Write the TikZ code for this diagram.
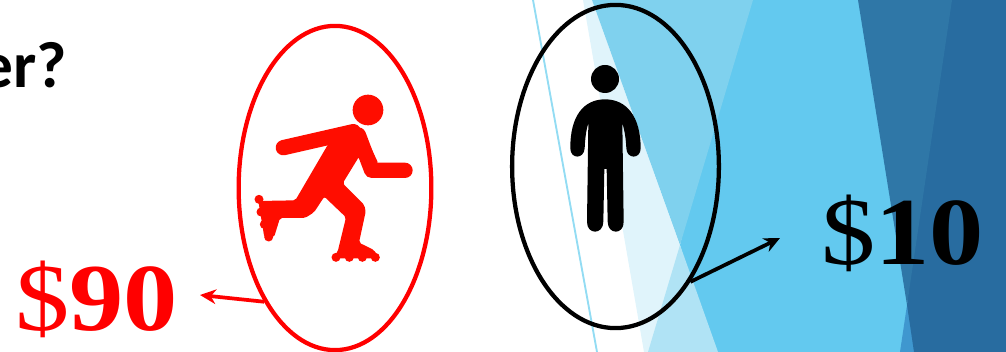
\documentclass[tikz,border=0pt]{standalone}
\usepackage{fontspec}
\setmainfont{Carlito}
\newfontfamily\numfont[FakeStretch=1.13]{Liberation Serif}
\usetikzlibrary{shapes.geometric,arrows.meta}
\definecolor{bgA}{HTML}{E0F4FB}
\definecolor{bgB}{HTML}{7FD1EE}
\definecolor{bgC}{HTML}{B0E3F5}
\definecolor{bgD}{HTML}{63C9EF}
\definecolor{bgE}{HTML}{2F77A7}
\definecolor{bgF}{HTML}{286CA0}
\definecolor{bgG}{HTML}{3F97CF}
\definecolor{bgLine}{HTML}{93DCF3}
\definecolor{skred}{HTML}{FF0D00}
\tikzset{
  oval/.style={ellipse,draw=#1,line width=3.2pt,inner sep=0pt,fill=none},
  pointer/.style={draw=#1,line width=2.8pt,-{Stealth[length=12pt,width=11pt]}},
  price/.style={font=\numfont\fontsize{72}{72}\selectfont,anchor=base west,inner sep=0pt,outer sep=0pt},
  title/.style={font=\fontsize{49}{49}\selectfont\bfseries,anchor=base east,inner sep=0pt,outer sep=0pt}
}
\begin{document}
\begin{tikzpicture}[x=0.75pt,y=-0.75pt]
\useasboundingbox (0,0) rectangle (1006,352);
\clip (0,0) rectangle (1006,352);
% background
\fill[bgA] (583,0) -- (644,352) -- (718,352) -- (592,0) -- cycle;
\fill[bgD] (740,0) -- (870,0) -- (925,352) -- (710,352) -- (680,245) -- cycle;
\fill[bgB] (592,0) -- (753,0) -- (680,245) -- cycle;
\fill[bgC] (680,245) -- (718,352) -- (648,352) -- cycle;
\fill[bgG] (907,305) -- (925,352) -- (900,352) -- cycle;
\fill[bgF] (940,0) -- (1006,0) -- (1006,352) -- (914,352) -- (907,305) -- cycle;
\fill[bgE] (858,0) -- (952,0) -- (907,305) -- cycle;
\draw[bgLine,line width=1.4pt] (533,0) -- (597,352);
% texts
\node[title] (question) at (67,88) {er?};
\node[price,text=red] (ninety) at (15,331) {\$\textbf{90}};
\node[price,text=black] (ten) at (821,265) {\$\textbf{10}};
% ovals
\node[oval=red,minimum width=192bp*0.75,minimum height=323bp*0.75] (skater) at (335,188) {};
\node[oval=black,minimum width=206bp*0.75,minimum height=322bp*0.75] (person) at (615.5,166.5) {};
% connectors
\coordinate (redtip) at (200,295);
\coordinate (blacktip) at (780,238);
\draw[pointer=red] (skater.238.6) -- (redtip);
\draw[pointer=black] (person.303) -- (blacktip);
% skater icon
\begin{scope}[shift={(230,60)},x=0.25pt,y=-0.25pt,skred]
\fill (414,150) circle[radius=46*0.25pt];
\draw[line width=11.5pt,line cap=round] (160,263) -- (370,215);
\draw[line width=11.5pt,line cap=round,line join=round] (385,225) -- (425,331) -- (525,331);
\fill[rounded corners=1.5pt] (296,250) -- (375,195) -- (405,225) -- (445,310) -- (387,290) -- (338,370) -- (403,435) -- (407,455) -- (387,548) -- (432,570) -- (447,595) -- (308,595) -- (323,575) -- (348,472) -- (283,410) -- (252,457) -- (225,474) -- (150,474) -- (132,532) -- (103,532) -- (85,423) -- (196,421) -- cycle;
\foreach \cx/\cy in {318/592,358/592,397/592,436/592,87/418,93/456,103/493,116/531}
  \fill (\cx,\cy) circle[radius=13.5*0.25pt];
\end{scope}
% person icon
\begin{scope}[shift={(520,0)},x=0.25pt,y=-0.25pt,black]
\fill (255,237) circle[radius=42*0.25pt];
\fill (255,298) .. controls (190,298) and (150,350) .. (151,445)
  .. controls (151,478) and (192,478) .. (194,445)
  .. controls (195,420) and (198,390) .. (205,370)
  -- (201,665) .. controls (200,705) and (250,705) .. (250,665)
  -- (253,507) -- (260,507)
  -- (263,665) .. controls (263,705) and (312,705) .. (311,665)
  -- (307,370)
  .. controls (314,390) and (318,420) .. (319,445)
  .. controls (320,478) and (362,478) .. (362,445)
  .. controls (362,350) and (320,298) .. (255,298) -- cycle;
\end{scope}
\end{tikzpicture}
\end{document}
